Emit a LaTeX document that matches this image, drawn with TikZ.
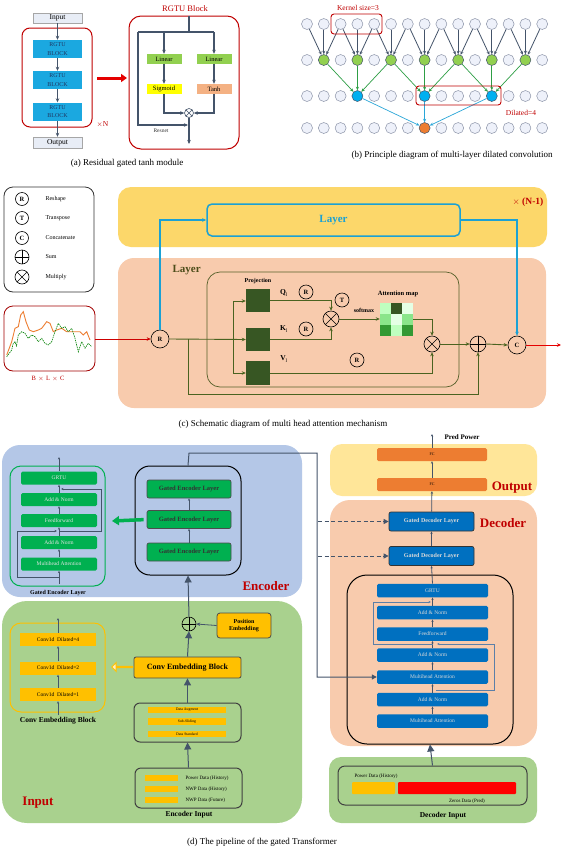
\documentclass[tikz,border=0pt]{standalone}
\usepackage{fontspec}
\setmainfont{Liberation Serif}
\usetikzlibrary{arrows.meta,calc,shapes.arrows}
\definecolor{cDred}{HTML}{C00000}
\definecolor{cLine}{HTML}{44546A}
\definecolor{cRcyan}{HTML}{1BA8E0}
\definecolor{cNavy}{HTML}{1F3864}
\definecolor{cLgreen}{HTML}{92D050}
\definecolor{cCyanb}{HTML}{00B0F0}
\definecolor{cOran}{HTML}{ED7D31}
\definecolor{cLcir}{HTML}{EEF1FA}
\definecolor{cCcir}{HTML}{8C94A8}
\definecolor{cYelb}{HTML}{FCD76A}
\definecolor{cPeach}{HTML}{F8CBAD}
\definecolor{cOlive}{HTML}{56602A}
\definecolor{cDgreen}{HTML}{375623}
\definecolor{cLineg}{HTML}{4A6320}
\definecolor{cEncblue}{HTML}{B4C7E7}
\definecolor{cIngreen}{HTML}{A9D18E}
\definecolor{cOutyel}{HTML}{FFE699}
\definecolor{cGbox}{HTML}{00B050}
\definecolor{cDblue}{HTML}{0070C0}
\definecolor{cGold}{HTML}{FFC000}
\definecolor{cResblue}{HTML}{5B7FA8}
\definecolor{cSig}{HTML}{FFFF00}
\definecolor{cTanh}{HTML}{F4B183}
\definecolor{cInput}{HTML}{E8EDF6}
\definecolor{cLayerTxt}{HTML}{4D4D1A}
\definecolor{cLayerCy}{HTML}{1BA1D4}
\definecolor{cGarr}{HTML}{2E9E45}
\definecolor{cCarr}{HTML}{2AA6D8}
\tikzset{
  fsz/.code={\pgfmathsetmacro\fszb{1.2*#1}\tikzset{font=\fontsize{#1}{\fszb}\selectfont}},
  bx/.style={rectangle, inner sep=0, align=center},
  arr/.style={-{Stealth[length=4pt,width=3.5pt]}, draw=cLine, line width=0.8pt},
  sarr/.style={-{Stealth[length=2.5pt,width=2.2pt]}, draw=cLine, line width=0.5pt},
  barr/.style={-{Triangle[length=7pt,width=7pt]}, draw=cLine, line width=1pt},
  lc/.style={circle, draw=cCcir, fill=cLcir, minimum size=11, inner sep=0, line width=0.5pt},
  gc/.style={lc, fill=cLgreen, draw=cLine},
  bc/.style={lc, fill=cCyanb, draw=cLine},
  oc/.style={lc, fill=cOran, draw=cLine},
  barrow/.style={-{Stealth[length=3.5pt,width=3pt]}, draw=cLine, line width=0.8pt},
  garrow/.style={-{Stealth[length=3.5pt,width=3pt]}, draw=cGarr, line width=0.7pt},
  carrow/.style={-{Stealth[length=3.5pt,width=3pt]}, draw=cCarr, line width=0.7pt},
  opc/.style={circle, draw, minimum size=14, inner sep=0, line width=0.6pt, font=\bfseries\fontsize{6.5}{7}\selectfont},
  plusc/.style={circle, draw, minimum size=16, inner sep=0, line width=0.6pt, path picture={\draw[line width=0.6pt] (path picture bounding box.north) -- (path picture bounding box.south) (path picture bounding box.west) -- (path picture bounding box.east);}},
  timesc/.style={circle, draw, minimum size=16, inner sep=0, line width=0.6pt, path picture={\draw[line width=0.6pt] (path picture bounding box.north west) -- (path picture bounding box.south east) (path picture bounding box.south west) -- (path picture bounding box.north east);}},
  garr/.style={-{Stealth[length=4pt,width=3.5pt]}, draw=cLineg, line width=0.9pt},
  redlab/.style={text=cDred, font=\bfseries\fontsize{13}{13}\selectfont},
  captxt/.style={fsz=9},
}
\begin{document}
\begin{tikzpicture}[x=1pt,y=-1pt]
\useasboundingbox (0,0) rectangle (566,852);
\fill[white] (0,0) rectangle (566,852);

%%%%%%%%%%%%%%%% (a)
\node[bx, draw=gray!70, fill=cInput, minimum width=49, minimum height=10, fsz=7.5] (ain) at (57.5,18) {Input};
\draw[cDred, line width=1pt, rounded corners=8] (22,28) rectangle (92,127);
\foreach \n/\y in {r1/49,r2/80,r3/111.5}
  \node[bx, fill=cRcyan, minimum width=49, minimum height=18, fsz=6, text=cNavy] (\n) at (57.5,\y) {RGTU\\[1pt]BLOCK};
\node[bx, draw=gray!70, fill=cInput, minimum width=49, minimum height=11, fsz=7.5] (aout) at (57.5,142.5) {Output};
\draw[arr] (ain) -- (r1);
\draw[arr] (r1) -- (r2);
\draw[arr] (r2) -- (r3);
\draw[arr] (r3) -- (aout);
\node[fsz=7.5, text=cDred, anchor=west] (xn) at (93,124) {$\times$N};
\coordinate (ra1) at (97,78);
\coordinate (ra2) at (127,78);
\draw[-{Triangle[length=6pt,width=8pt]}, draw=red!90!black, line width=3pt] (ra1) -- (ra2);
\node[fsz=8.5, text=cDred] (rgtit) at (185,8.5) {RGTU Block};
\draw[cDred, line width=1pt, rounded corners=12] (129,16) rectangle (239,149);
\coordinate (atop) at (189,16);
\coordinate (ajn) at (189,32);
\coordinate (aleft) at (138,32);
\coordinate (aright) at (214,32);
\node[bx, fill=cLgreen, minimum width=35, minimum height=10, fsz=6.5] (lin1) at (164,59) {Linear};
\node[bx, fill=cLgreen, minimum width=35, minimum height=10, fsz=6.5] (lin2) at (214,59) {Linear};
\node[bx, fill=cSig, minimum width=35, minimum height=10, fsz=6.5] (sig) at (164,89) {Sigmoid};
\node[bx, fill=cTanh, minimum width=35, minimum height=10, fsz=6.5] (tanh) at (214,89) {Tanh};
\node[timesc, minimum size=9, draw=cLine, fill=white] (amul) at (189,113) {};
\draw[cLine, line width=1.2pt] (atop) -- (ajn);
\draw[cLine, line width=1.2pt] (aleft) -- (aright);
\draw[arr, line width=1.2pt] (lin1 |- ajn) -- (lin1);
\draw[arr, line width=1.2pt] (aright) -- (lin2);
\draw[arr, line width=1.2pt] (lin1) -- (sig);
\draw[arr, line width=1.2pt] (lin2) -- (tanh);
\draw[arr, line width=1.2pt] (sig.south) |- (amul.west);
\draw[arr, line width=1.2pt] (tanh.south) |- (amul.east);
\coordinate (resc) at (138,125);
\coordinate (rese) at (188,125);
\draw[arr, line width=1.2pt] (aleft) -- (resc) -- (rese);
\coordinate (aend) at (189,144);
\draw[arr, line width=1.2pt] (amul.south) -- (aend);
\node[fsz=5.5, text=black!80] (resl) at (161,131) {Resnet};
\node[captxt] (capa) at (127,163) {(a) Residual gated tanh module};

%%%%%%%%%%%%%%%% (b)
\foreach \i in {0,...,14} \node[lc] (ba\i) at ({307+16.8*\i},24) {};
\foreach \i in {0,2,...,14} \node[lc] (bb\i) at ({307+16.8*\i},60) {};
\foreach \i in {1,3,...,13} \node[gc] (bb\i) at ({307+16.8*\i},60) {};
\foreach \i in {0,1,2,4,5,6,8,9,10,12,13,14} \node[lc] (bc\i) at ({307+16.8*\i},96) {};
\foreach \i in {3,7,11} \node[bc] (bc\i) at ({307+16.8*\i},96) {};
\foreach \i in {0,1,2,3,4,5,6,8,9,10,11,12,13,14} \node[lc] (bd\i) at ({307+16.8*\i},128) {};
\node[oc] (bd7) at ({307+16.8*7},128) {};
\foreach \g in {1,3,...,13}{\foreach \d in {-1,0,1}{\pgfmathtruncatemacro\s{\g+\d}\draw[barrow] (ba\s) -- (bb\g);}}
\foreach \b in {3,7,11}{\foreach \d in {-2,0,2}{\pgfmathtruncatemacro\s{\b+\d}\draw[garrow] (bb\s) -- (bc\b);}}
\foreach \b in {3,7,11}{\draw[carrow] (bc\b) -- (bd7);}
\draw[cDred, line width=0.9pt, rounded corners=3] (331,14) rectangle (382,34);
\node[fsz=7.5, text=cDred] (kern) at (358,8) {Kernel size=3};
\draw[cDred, line width=0.9pt, rounded corners=3] (416,86) rectangle (501,105);
\node[fsz=7.5, text=cDred] (dil) at (521,113) {Dilated=4};
\node[captxt] (capb) at (452,155) {(b) Principle diagram of multi-layer dilated convolution};

%%%%%%%%%%%%%%%% (c)
\draw[black!80, line width=0.8pt, rounded corners=9] (4,187) rectangle (94,292);
\node[opc, minimum size=13] (lgR) at (22,199) {R};
\node[opc, minimum size=13] (lgT) at (22,218) {T};
\node[opc, minimum size=13] (lgC) at (22,238) {C};
\node[plusc, minimum size=14] (lgS) at (22,257) {};
\node[timesc, minimum size=14] (lgM) at (22,277) {};
\foreach \n/\t in {lgR/Reshape,lgT/Transpose,lgC/Concatenate,lgS/Sum,lgM/Multiply}
  \node[fsz=6, anchor=west] at ($(\n)+(20,0)$) {\t};
\draw[cDred!85!black, line width=0.8pt, rounded corners=9] (4,306) rectangle (95,371);
\draw[cOran, line width=0.9pt] plot coordinates {(6.7,355) (11.7,341.7) (15,328.3) (18.3,326.7) (20.7,315) (23.3,311.7) (26,321.7) (29.3,330) (33.3,331.7) (38.3,330) (41.7,328.3) (46.7,321.7) (50,323.3) (53.3,331.7) (56.7,330) (61.7,328.3) (66.7,331.7) (71.7,331.7) (76.7,331.7) (80,331.7) (83.3,335) (86.7,331.7) (90,340)};
\draw[green!50!black, line width=0.6pt, dash pattern=on 1.5pt off 0.8pt] plot coordinates {(6.7,356.7) (11.7,350) (13,344) (15,341.7) (16.5,346) (18.3,335) (21.7,331.7) (25,333.3) (28.3,338.3) (31.7,335) (35,336.7) (38.3,341.7) (41.7,338.3) (45,343.3) (48.3,345) (51.7,341.7) (55,331.7) (58.3,323.3) (61.7,328.3) (65,326.7) (68.3,331.7) (71.7,328.3) (75,338.3) (78.3,351.7) (81.7,341.7) (85,348.3) (88.3,343.3) (91.7,346.7)};
\node[fsz=6.5, text=cDred] (blc) at (48,379) {B\,\,$\times$\,\,L\,\,$\times$\,\,C};
\fill[cYelb, rounded corners=13] (118,187) rectangle (547,247);
\fill[cPeach, rounded corners=16] (118,258) rectangle (546,408);
\node[text=cLayerTxt, font=\bfseries\fontsize{11}{11}\selectfont, anchor=west] (laylab) at (169,270) {Layer};
\node[text=cDred, font=\bfseries\fontsize{9.5}{10}\selectfont] (nm1) at (528,202) {$\times$ (N-1)};
\node[bx, draw=cLayerCy, line width=1.5pt, rounded corners=5, minimum width=253, minimum height=32, text=cLayerCy, font=\bfseries\fontsize{11}{11}\selectfont] (ilay) at (333.5,220) {Layer};
\draw[cOlive, line width=0.7pt, rounded corners=13] (207,272) rectangle (459,387);
\node[opc, minimum size=18, fill=cPeach] (Rm) at (160,339) {R};
\coordinate (cyc) at (160,220);
\draw[-{Stealth[length=4pt,width=3.5pt]}, draw=cLayerCy, line width=1.1pt] (Rm.north) -- (cyc) -- (ilay.west);
\node[opc, minimum size=18, fill=cPeach] (Cc) at (517,345) {C};
\draw[-{Stealth[length=4pt,width=3.5pt]}, draw=cLayerCy, line width=1.1pt] (ilay.east) -| (Cc.north);
\node[bx, fill=cDgreen, minimum width=24, minimum height=23] (Qb) at (258,300.5) {};
\node[bx, fill=cDgreen, minimum width=24, minimum height=23] (Kb) at (258,339.5) {};
\node[bx, fill=cDgreen, minimum width=24, minimum height=24] (Vb) at (258,373) {};
\node[font=\bfseries\fontsize{6}{6}\selectfont] (proj) at (258,281) {Projection};
\node[fsz=7.5] (ql) at (284,293) {\textbf{Q}\textsubscript{l}};
\node[fsz=7.5] (kl) at (284,329) {\textbf{K}\textsubscript{l}};
\node[fsz=7.5] (vl) at (284,359) {\textbf{V}\textsubscript{l}};
\node[opc] (rq) at (306,292) {R};
\node[opc] (rk) at (306,329) {R};
\node[opc] (rv) at (357,360) {R};
\node[timesc] (mul1) at (331,319) {};
\node[opc, fill=cPeach] (tT) at (342,300) {T};
\node[font=\bfseries\fontsize{6}{6}\selectfont] (smax) at (364,310) {softmax};
\coordinate (jq) at (233,301);
\coordinate (jv) at (233,373);
\coordinate (jr) at (188,339);
\coordinate (jr2) at (188,394);
\draw[garr] (Rm.east) -- (Kb.west);
\draw[cLineg, line width=0.9pt] (jq) -- (jv);
\draw[garr] (jq) -- (Qb.west |- jq);
\draw[garr] (jv) -- (Vb.west);
\draw[garr] (Qb.east) -| (mul1.north);
\draw[garr] (Kb.east) -| (mul1.south);
% attention map
\node[bx, minimum width=33, minimum height=33] (attn) at (396.5,319.5) {};
\fill[green!25!white] (380,303) rectangle (391,314);
\fill[cDgreen] (391,303) rectangle (402,314);
\fill[green!10!white] (402,303) rectangle (413,314);
\fill[green!45!white!80!gray] (380,314) rectangle (391,325);
\fill[green!10!white] (391,314) rectangle (402,325);
\fill[green!45!white!80!gray] (402,314) rectangle (413,325);
\fill[green!50!black!80] (380,325) rectangle (391,336);
\fill[green!25!white] (391,325) rectangle (402,336);
\fill[green!50!black!80] (402,325) rectangle (413,336);
\node[font=\bfseries\fontsize{6.5}{6.5}\selectfont] (attl) at (398,294) {Attention map};
\draw[garr] (mul1.east) -- (attn.west |- mul1);
\node[timesc] (mul2) at (432,344) {};
\node[plusc] (sumc) at (478,344) {};
\draw[garr] (attn.east) -| (mul2.north);
\draw[garr] (Vb.east) -| (mul2.south);
\draw[garr] (mul2.east) -- (sumc.west);
\draw[garr] (sumc.east) -- (Cc.west);
\draw[garr] (jr) -- (jr2) -| (sumc.south);
\draw[-{Stealth[length=4pt,width=3.5pt]}, draw=cDred!80!red, line width=1pt] (95,339) -- (Rm.west);
\coordinate (cout) at (561,345);
\draw[-{Stealth[length=4pt,width=3.5pt]}, draw=red!90!black, line width=1pt] (Cc.east) -- (cout);
\node[captxt] (capc) at (283,424) {(c) Schematic diagram of multi head attention mechanism};

%%%%%%%%%%%%%%%% (d) backgrounds
\fill[cEncblue, rounded corners=18] (2,445) rectangle (302,597);
\fill[cIngreen, rounded corners=25] (2,601) rectangle (302,823);
\fill[cOutyel, rounded corners=12] (330,444) rectangle (537,496);
\fill[cPeach, rounded corners=20] (330,500) rectangle (537,746);
\fill[cIngreen, rounded corners=12] (329,757) rectangle (537,823);
\node[redlab] (encl) at (266,586) {Encoder};
\node[redlab] (decl) at (503,523) {Decoder};
\node[redlab] (outl) at (512,488) {Output};
\node[redlab] (inl) at (38,803) {Input};

% gated encoder layer detail
\draw[cGbox, line width=1pt, rounded corners=11] (10,466) rectangle (105,586);
\foreach \n/\y/\t in {eg1/478/GRTU,eg2/499.5/Add \& Norm,eg3/520.5/Feedforward,eg4/542.5/Add \& Norm,eg5/564/Multihead Attention}
  \node[bx, fill=cGbox, rounded corners=1.5, minimum width=76, minimum height=13, fsz=5.5, text=white!90!black] (\n) at (59,\y) {\t};
\coordinate (egin) at (59,584);
\coordinate (egout) at (59,457);
\draw[sarr] (egin) -- (eg5.south);
\draw[sarr] (eg5) -- (eg4);
\draw[sarr] (eg4) -- (eg3);
\draw[sarr] (eg3) -- (eg2);
\draw[sarr] (eg2) -- (eg1);
\draw[sarr] (eg1.north) -- (egout);
\coordinate (er1) at (59,577);
\coordinate (er2) at (17,577);
\coordinate (er3) at (17,531);
\coordinate (er4) at (57,531);
\draw[sarr] (er1) -- (er2) -- (er3) -- (er4);
\coordinate (er5) at (59,531);
\coordinate (er6) at (101,531);
\coordinate (er7) at (101,489);
\coordinate (er8) at (61,489);
\draw[sarr] (er5) -- (er6) -- (er7) -- (er8);
\node[font=\bfseries\fontsize{6}{6}\selectfont] (egl) at (58,593) {Gated Encoder Layer};

% encoder stack
\node[bx, draw=black, line width=1pt, rounded corners=15, minimum width=106, minimum height=109] (estack) at (188,520.5) {};
\foreach \n/\y in {gel1/489,gel2/519.5,gel3/552}
  \node[bx, fill=cGbox, draw=black!70, line width=0.7pt, rounded corners=2, minimum width=84, minimum height=18, font=\bfseries\fontsize{6.5}{6.5}\selectfont, text=black!80] (\n) at (189,\y) {Gated Encoder Layer};
\draw[sarr, line width=0.8pt] (gel3) -- (gel2);
\draw[sarr, line width=0.8pt] (gel2) -- (gel1);
\coordinate (gtip) at (112,521);
\draw[-{Triangle[length=7pt,width=9pt]}, draw=cGbox, line width=3.5pt, shorten <=3pt] (gel2.west) -- (gtip);

% encoder input side
\node[plusc, minimum size=14, draw=black] (sumd) at (189,624) {};
\draw[barr] (sumd.north) -- (estack.south);
\node[bx, fill=cGold, draw=black!70, line width=0.8pt, rounded corners=2, minimum width=107, minimum height=21, font=\bfseries\fontsize{8}{8}\selectfont] (cemb) at (187.5,667.5) {Conv Embedding Block};
\node[bx, fill=cGold, draw=black!70, line width=0.8pt, rounded corners=3, minimum width=54, minimum height=25, font=\bfseries\fontsize{6}{7}\selectfont] (pos) at (244,625.5) {Position\\Embedding};
\draw[arr] (pos.west) -- (sumd.east);
\draw[barr] (cemb.north) -- (sumd.south);
\node[bx, draw=black!75, line width=1pt, rounded corners=6, minimum width=107, minimum height=39] (pre) at (187.5,722.5) {};
\foreach \n/\y/\t in {pb1/710/Data Augment,pb2/721.5/Sub-Sliding,pb3/734/Data Standard}
  \node[bx, fill=cGold, minimum width=78, minimum height=6.5, fsz=3.8] (\n) at (187,\y) {\t};
\draw[barr] (pre.north) -- (cemb.south);
\node[bx, draw=black!75, line width=1pt, rounded corners=6, minimum width=107, minimum height=40] (encin) at (188.5,788) {};
\foreach \n/\y/\t in {eb1/778/Power Data (History),eb2/789/NWP Data (History),eb3/800/NWP Data (Future)}{
  \node[bx, fill=cGold, minimum width=33, minimum height=6] (\n) at (161.5,\y) {};
  \node[fsz=5, anchor=west] at (182,\y) {\t};}
\draw[barr] (encin.north) -- (pre.south);
\node[font=\bfseries\fontsize{7.5}{7.5}\selectfont] (eil) at (189,815) {Encoder Input};

% conv embedding detail
\draw[cGold, line width=1pt, rounded corners=11] (10,623) rectangle (105,712);
\foreach \n/\y/\t in {ce1/639.5/4,ce2/668/2,ce3/694.5/1}
  \node[bx, fill=cGold, minimum width=76, minimum height=13, fsz=5.5] (\n) at (58,\y) {Conv1d\,\,\,Dilated=\t};
\coordinate (cein) at (58,715);
\coordinate (ceout) at (58,618);
\draw[sarr] (cein) -- (ce3.south);
\draw[sarr] (ce3) -- (ce2);
\draw[sarr] (ce2) -- (ce1);
\draw[sarr] (ce1.north) -- (ceout);
\node[font=\bfseries\fontsize{7.5}{7.5}\selectfont] (cel) at (58,721) {Conv Embedding Block};
\node[single arrow, shape border rotate=180, draw=cGold, fill=cGold!25, line width=0.9pt, minimum height=21, minimum width=9, single arrow head extend=2.5, inner sep=0] (yarr) at (122.5,667) {};

% output
\node[bx, fill=cOran, rounded corners=1.5, minimum width=110, minimum height=13, fsz=4] (fc1) at (432,454.5) {FC};
\node[bx, fill=cOran, rounded corners=1.5, minimum width=110, minimum height=13, fsz=4] (fc2) at (432,484.5) {FC};
\coordinate (pred) at (432,434);
\node[font=\bfseries\fontsize{7}{7}\selectfont, anchor=west] (predl) at (441,437) {Pred Power};
\draw[sarr, line width=0.8pt] (fc2) -- (fc1);
\draw[sarr, line width=0.8pt] (fc1.north) -- (pred);

% decoder
\foreach \n/\y in {gdl1/521.5,gdl2/556}
  \node[bx, fill=cDblue, draw=black!80, line width=0.7pt, rounded corners=2, minimum width=85, minimum height=19, font=\bfseries\fontsize{6}{6}\selectfont, text=white!85!black] (\n) at (431.5,\y) {Gated Decoder Layer};
\draw[sarr, line width=0.8pt] (gdl1) -- (fc2);
\draw[sarr, line width=0.8pt] (gdl2) -- (gdl1);
\node[bx, draw=black, line width=1pt, rounded corners=20, minimum width=166, minimum height=169] (dstack) at (430,659.5) {};
\foreach \n/\y/\t in {d1/590.5/GRTU,d2/612.5/Add \& Norm,d3/634/Feedforward,d4/655/Add \& Norm,d5/677/Multihead Attention,d6/699.5/Add \& Norm,d7/721/Multihead Attention}
  \node[bx, fill=cDblue, rounded corners=1.5, minimum width=111, minimum height=13.5, fsz=5.5, text=white!85!black] (\n) at (432.5,\y) {\t};
\draw[sarr] (d7) -- (d6);
\draw[sarr] (d6) -- (d5);
\draw[sarr] (d5) -- (d4);
\draw[sarr] (d4) -- (d3);
\draw[sarr] (d3) -- (d2);
\draw[sarr] (d2) -- (d1);
\draw[sarr, line width=0.8pt] (d1.north) -- (gdl2.south);
\coordinate (dr1) at (436,690);
\coordinate (dr2) at (494,690);
\coordinate (dr3) at (494,644);
\coordinate (dr4) at (437,644);
\draw[-{Stealth[length=2.5pt,width=2.2pt]}, draw=cResblue, line width=0.7pt] (dr1) -- (dr2) -- (dr3) -- (dr4);
\coordinate (dr5) at (433,644);
\coordinate (dr6) at (373,644);
\coordinate (dr7) at (373,602);
\coordinate (dr8) at (431,602);
\draw[-{Stealth[length=2.5pt,width=2.2pt]}, draw=cResblue, line width=0.7pt] (dr5) -- (dr6) -- (dr7) -- (dr8);

% encoder to decoder connections
\coordinate (ec1) at (189,453);
\coordinate (ec2) at (317,453);
\coordinate (ec3) at (317,677);
\draw[-{Triangle[length=5pt,width=5pt]}, draw=cLine, line width=1pt] (estack.north) -- (ec1) -- (ec2) -- (ec3) -- (d5.west);
\coordinate (dd1) at (318,521.5);
\coordinate (dd2) at (318,556);
\draw[-{Triangle[length=5pt,width=5pt]}, draw=cLine, line width=1pt, dash pattern=on 4pt off 2.5pt] (dd1) -- (gdl1.west);
\draw[-{Triangle[length=5pt,width=5pt]}, draw=cLine, line width=1pt, dash pattern=on 4pt off 2.5pt] (dd2) -- (gdl2.west);

% decoder input
\node[bx, draw=black!75, line width=1pt, rounded corners=7, minimum width=189, minimum height=39] (decin) at (432.5,785.5) {};
\draw[barr] (decin.north) -- (dstack.south);
\node[fsz=5, anchor=west] (pdh) at (351,776) {Power Data (History)};
\node[bx, fill=cGold, rounded corners=1, minimum width=43, minimum height=12] (obar) at (373.5,788) {};
\node[bx, fill=red, rounded corners=1, minimum width=118, minimum height=12] (rbar) at (457,788) {};
\node[fsz=5] (zdp) at (467,801) {Zeros Data (Pred)};
\node[font=\bfseries\fontsize{7.5}{7.5}\selectfont] (dil2) at (443,816) {Decoder Input};

\node[captxt] (capd) at (262,842) {(d) The pipeline of the gated Transformer};
\end{tikzpicture}
\end{document}
